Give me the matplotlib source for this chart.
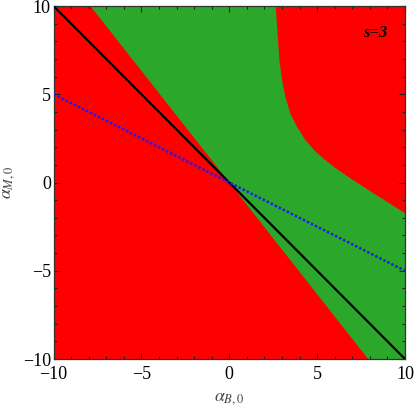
import matplotlib
matplotlib.use("Agg")
import matplotlib.pyplot as plt
from matplotlib.ticker import MultipleLocator

plt.rcParams['font.family'] = ['Liberation Serif', 'DejaVu Serif']
plt.rcParams['mathtext.fontset'] = 'stix'

# Data
# straight lower/left boundary of the stable (green) region
edge_top = (-7.9, 10.0)
edge_bottom = (7.9, -10.0)
# curved upper/right boundary of the green region
curve_x = [2.64, 2.77, 2.85, 3.00, 3.19, 3.47, 3.85, 4.33, 4.90, 5.37, 6.00, 6.65, 7.34, 8.16, 8.48, 10.0]
curve_y = [10.0, 8.07, 6.94, 5.81, 4.86, 3.92, 3.16, 2.41, 1.76, 1.35, 0.85, 0.40, -0.05, -0.58, -0.78, -1.74]
# lines
black_x = [-10, 10]
black_y = [10, -10]
blue_x = [-10, 10]
blue_y = [5, -5]
ticks = [-10, -5, 0, 5, 10]
label_text = "s=3"

fig = plt.figure(figsize=(4.15, 4.09), dpi=100)
ax = fig.add_axes([0.129, 0.1222, 0.847, 0.863])
ax.set_xlim(-10, 10)
ax.set_ylim(-10, 10)
ax.set_facecolor('#ff0000')

poly_x = [edge_top[0]] + curve_x + [10.0, edge_bottom[0]]
poly_y = [edge_top[1]] + curve_y + [-10.0, edge_bottom[1]]
ax.fill(poly_x, poly_y, color='#2ba82b', lw=0, zorder=1)

ax.plot(black_x, black_y, color='black', lw=1.6, zorder=3)
ax.plot(blue_x, blue_y, color='#1a1aff', lw=1.8, linestyle=(0, (1, 0.8)), zorder=4)

ax.text(8.98, 8.47, label_text, fontsize=12, fontweight='bold', fontstyle='italic',
        ha='right', va='center', zorder=5)

ax.set_xticks(ticks)
ax.set_yticks(ticks)
ax.set_xticklabels([str(t).replace('-', '\u2212') for t in ticks])
ax.set_yticklabels([str(t).replace('-', '\u2212') for t in ticks])
ax.xaxis.set_minor_locator(MultipleLocator(1))
ax.yaxis.set_minor_locator(MultipleLocator(1))
ax.tick_params(which='both', direction='in', top=True, right=True, labelsize=13,
               color='#222222', width=0.8)
ax.tick_params(axis='x', pad=5)
ax.tick_params(axis='y', pad=2)
ax.tick_params(which='major', length=4)
ax.tick_params(which='minor', length=2.3)
for s in ax.spines.values():
    s.set_color('#333333')
    s.set_linewidth(0.9)

ax.set_xlabel(r'$\alpha_{B,0}$', fontsize=13, color='#444444', labelpad=5)
ax.set_ylabel(r'$\alpha_{M,0}$', fontsize=13, color='#444444', labelpad=4)

fig.savefig('out.png', dpi=100)
